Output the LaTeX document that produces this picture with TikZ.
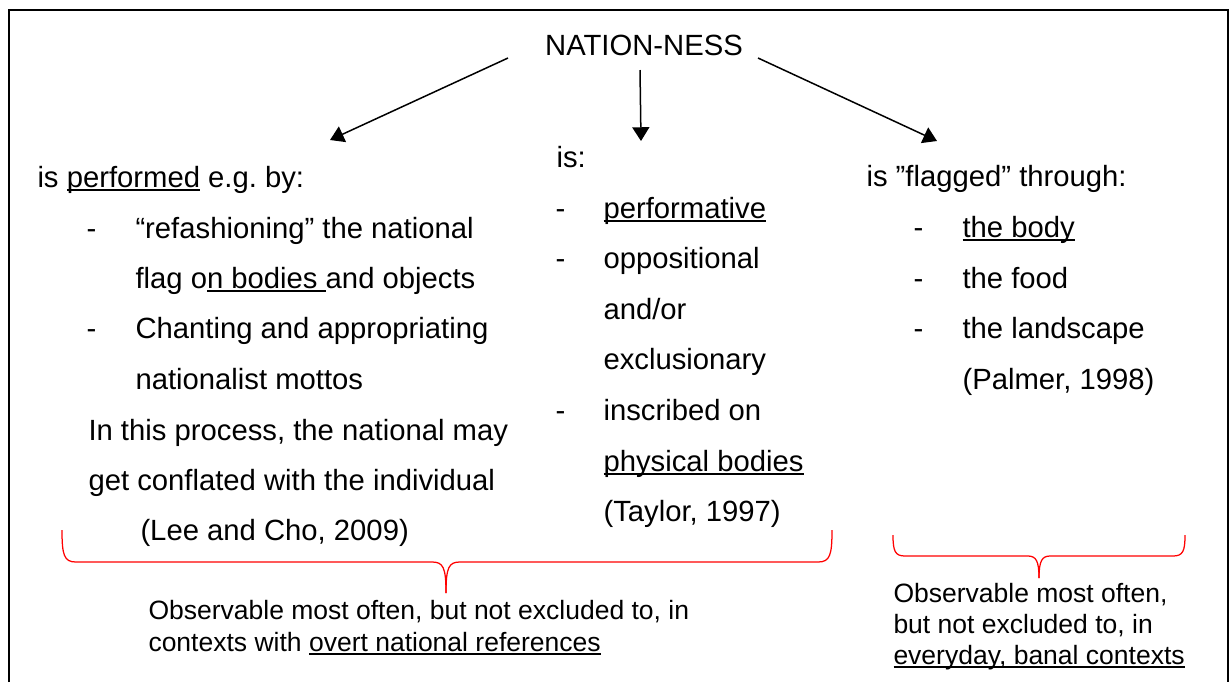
\documentclass[tikz,border=0pt]{standalone}
\usepackage{fontspec}
\setmainfont{Liberation Sans}
\usetikzlibrary{arrows.meta}

% Word-like underline that runs through the descenders
\newcommand{\uln}[1]{\setbox0\hbox{#1}\rlap{\rule[-1.6pt]{\wd0}{0.7pt}}\box0\relax}

\tikzset{
  txt/.style={anchor=base west, inner sep=0pt, font=\fontsize{11.7}{14}\selectfont},
  capt/.style={anchor=base west, inner sep=0pt, font=\fontsize{10.6}{12.8}\selectfont},
  pointer/.style={-{Triangle[length=5.5pt,width=6.8pt]}, line width=0.6pt},
  bracket/.style={red, line width=0.5pt},
  frame/.style={line width=1pt}
}

\begin{document}
\frenchspacing
\begin{tikzpicture}[x=0.4pt, y=-0.4pt]
\useasboundingbox (0,0) rectangle (1232,682);

% frame, open at the bottom
\coordinate (fbl) at (9,682);
\coordinate (ftl) at (9,10);
\coordinate (ftr) at (1228,10);
\coordinate (fbr) at (1228,682);
\draw[frame] (fbl) -- (ftl) -- (ftr) -- (fbr);

\node[txt, anchor=base] (title) at (644,55) {NATION-NESS};

% left column
\node[txt] (perf) at (37,187) {is \uln{performed} e.g. by:};
\node[txt] (ldA) at (86,238) {-};
\node[txt] (lA1) at (135,238) {“refashioning” the national};
\node[txt] (lA2) at (135,288) {flag o\uln{n bodies }and objects};
\node[txt] (ldB) at (86,338) {-};
\node[txt] (lB1) at (135,338) {Chanting and appropriating};
\node[txt] (lB2) at (135,389) {nationalist mottos};
\node[txt] (lC1) at (88,440) {In this process, the national may};
\node[txt] (lC2) at (88,490) {get conflated with the individual};
\node[txt] (lref) at (140,540) {(Lee and Cho, 2009)};

% middle column
\node[txt] (is) at (556,167) {is:};
\node[txt] (mdA) at (555,218) {-};
\node[txt] (mA) at (603,218) {\uln{performative}};
\node[txt] (mdB) at (555,268) {-};
\node[txt] (mB1) at (603,268) {oppositional};
\node[txt] (mB2) at (603,319) {and/or};
\node[txt] (mB3) at (603,369) {exclusionary};
\node[txt] (mdC) at (555,420) {-};
\node[txt] (mC1) at (603,420) {inscribed on};
\node[txt] (mC2) at (603,471) {\uln{physical bodies}};
\node[txt] (mref) at (603,521) {(Taylor, 1997)};

% right column
\node[txt] (flag) at (866,186) {is ”flagged” through:};
\node[txt] (rdA) at (913,237) {-};
\node[txt] (rA) at (962,237) {\uln{the body}};
\node[txt] (rdB) at (913,288) {-};
\node[txt] (rB) at (962,288) {the food};
\node[txt] (rdC) at (913,338) {-};
\node[txt] (rC) at (962,338) {the landscape};
\node[txt] (rref) at (962,389) {(Palmer, 1998)};

% arrows from the title
\coordinate (aL) at (508,58);  \coordinate (aLtip) at (330,140);
\coordinate (aM) at (640,70);  \coordinate (aMtip) at (641,141);
\coordinate (aR) at (758,58);  \coordinate (aRtip) at (937,141);
\draw[pointer] (aL) -- (aLtip);
\draw[pointer] (aM) -- (aMtip);
\draw[pointer] (aR) -- (aRtip);

% red braces
\coordinate (bLa) at (62,530);  \coordinate (bLb) at (832,530);  \coordinate (bLtip) at (446,593);
\draw[bracket] (bLa) .. controls (62,555) and (64,562) .. (76,562) -- (432,562)
  .. controls (443,562) and (446,567) .. (bLtip);
\draw[bracket] (bLb) .. controls (832,555) and (830,562) .. (818,562) -- (460,562)
  .. controls (449,562) and (446,567) .. (bLtip);
\coordinate (bRa) at (893,535);  \coordinate (bRb) at (1185,535);  \coordinate (bRtip) at (1039,578);
\draw[bracket] (bRa) .. controls (893,551) and (895,556) .. (905,556) -- (1028,556)
  .. controls (1036,556) and (1039,561) .. (bRtip);
\draw[bracket] (bRb) .. controls (1185,551) and (1183,556) .. (1173,556) -- (1050,556)
  .. controls (1042,556) and (1039,561) .. (bRtip);

% captions under the braces
\node[capt] (cL1) at (148,619) {Observable most often, but not excluded to, in};
\node[capt] (cL2) at (148,651) {contexts with \uln{overt national references}};
\node[capt] (cR1) at (893,602) {Observable most often,};
\node[capt] (cR2) at (893,633) {but not excluded to, in};
\node[capt] (cR3) at (893,664) {\uln{everyday, banal contexts}};
\end{tikzpicture}
\end{document}
